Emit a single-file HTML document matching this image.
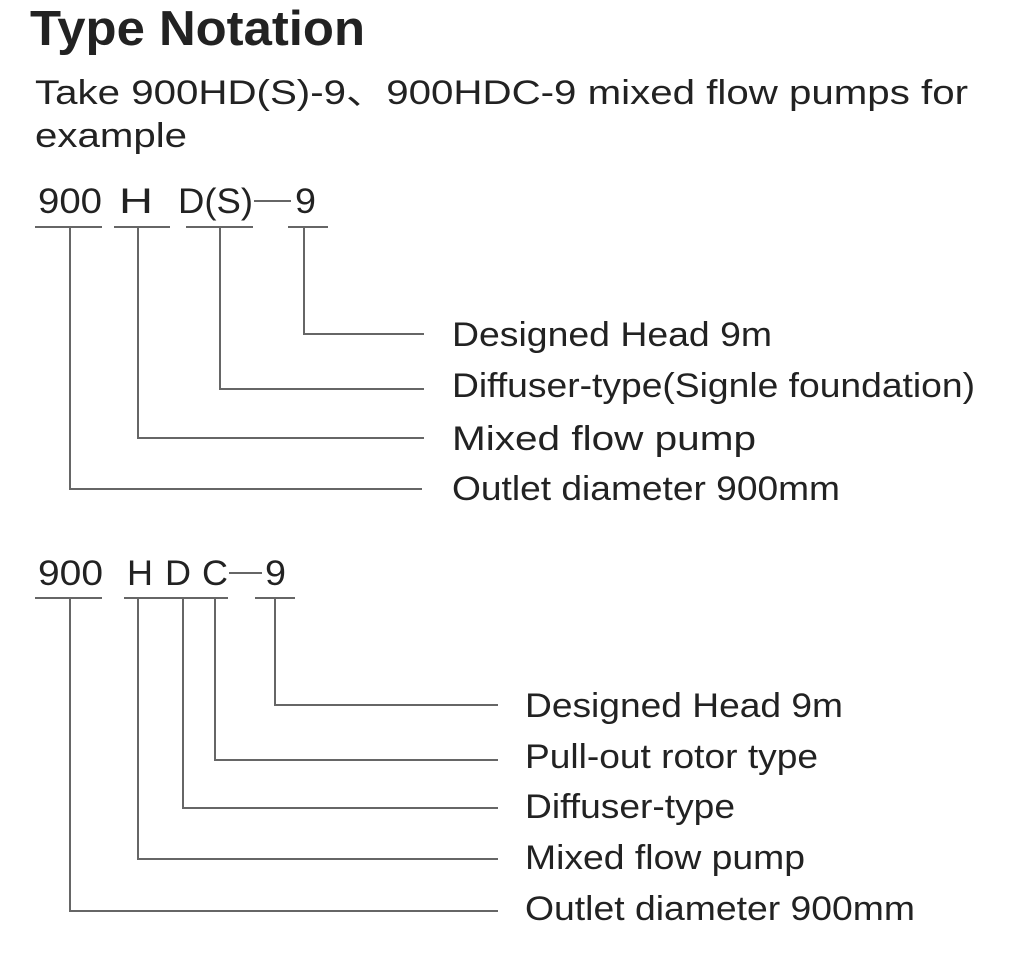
<!DOCTYPE html>
<html><head><meta charset="utf-8"><style>
html,body{margin:0;padding:0;background:#fff;width:1010px;height:966px;overflow:hidden}
svg{display:block}
text{font-family:"Liberation Sans","Noto Sans CJK SC",sans-serif;fill:#222}
</style></head><body>
<svg width="1010" height="966" viewBox="0 0 1010 966" xmlns="http://www.w3.org/2000/svg">
<text x="30" y="45" font-size="49" font-weight="bold" textLength="335" lengthAdjust="spacingAndGlyphs">Type Notation</text>
<text x="35" y="104" font-size="34" textLength="933" lengthAdjust="spacingAndGlyphs">Take 900HD(S)-9、900HDC-9 mixed flow pumps for</text>
<text x="35" y="147" font-size="34" textLength="152" lengthAdjust="spacingAndGlyphs">example</text>

<g font-size="35">
<text x="38" y="213" textLength="64" lengthAdjust="spacingAndGlyphs">900</text>
<text x="119" y="213" textLength="34" lengthAdjust="spacingAndGlyphs">H</text>
<text x="178" y="213" textLength="75" lengthAdjust="spacingAndGlyphs">D(S)</text>
<text x="295" y="213" textLength="21" lengthAdjust="spacingAndGlyphs">9</text>
<text x="38" y="585" textLength="65" lengthAdjust="spacingAndGlyphs">900</text>
<text x="127" y="585" textLength="26" lengthAdjust="spacingAndGlyphs">H</text>
<text x="165" y="585" textLength="26" lengthAdjust="spacingAndGlyphs">D</text>
<text x="202" y="585" textLength="26" lengthAdjust="spacingAndGlyphs">C</text>
<text x="265" y="585" textLength="21" lengthAdjust="spacingAndGlyphs">9</text>
</g>

<g stroke="#666" stroke-width="2" fill="none">
<line x1="254" y1="201" x2="291" y2="201"/>
<line x1="229" y1="573" x2="262" y2="573"/>
<line x1="35" y1="227" x2="102" y2="227"/>
<line x1="114" y1="227" x2="170" y2="227"/>
<line x1="186" y1="227" x2="253" y2="227"/>
<line x1="288" y1="227" x2="328" y2="227"/>
<polyline points="304,227 304,334 424,334"/>
<polyline points="220,227 220,389 424,389"/>
<polyline points="138,227 138,438 424,438"/>
<polyline points="70,227 70,489 422,489"/>
<line x1="35" y1="598" x2="102" y2="598"/>
<line x1="124" y1="598" x2="228" y2="598"/>
<line x1="255" y1="598" x2="295" y2="598"/>
<polyline points="275,598 275,705 498,705"/>
<polyline points="215,598 215,760 498,760"/>
<polyline points="183,598 183,808 498,808"/>
<polyline points="138,598 138,859 498,859"/>
<polyline points="70,598 70,911 498,911"/>
</g>

<g font-size="34">
<text x="452" y="346" textLength="320" lengthAdjust="spacingAndGlyphs">Designed Head 9m</text>
<text x="452" y="397" textLength="523" lengthAdjust="spacingAndGlyphs">Diffuser-type(Signle foundation)</text>
<text x="452" y="450" textLength="304" lengthAdjust="spacingAndGlyphs">Mixed flow pump</text>
<text x="452" y="500" textLength="388" lengthAdjust="spacingAndGlyphs">Outlet diameter 900mm</text>
<text x="525" y="717" textLength="318" lengthAdjust="spacingAndGlyphs">Designed Head 9m</text>
<text x="525" y="768" textLength="293" lengthAdjust="spacingAndGlyphs">Pull-out rotor type</text>
<text x="525" y="818" textLength="210" lengthAdjust="spacingAndGlyphs">Diffuser-type</text>
<text x="525" y="869" textLength="280" lengthAdjust="spacingAndGlyphs">Mixed flow pump</text>
<text x="525" y="920" textLength="390" lengthAdjust="spacingAndGlyphs">Outlet diameter 900mm</text>
</g>
</svg>
</body></html>
